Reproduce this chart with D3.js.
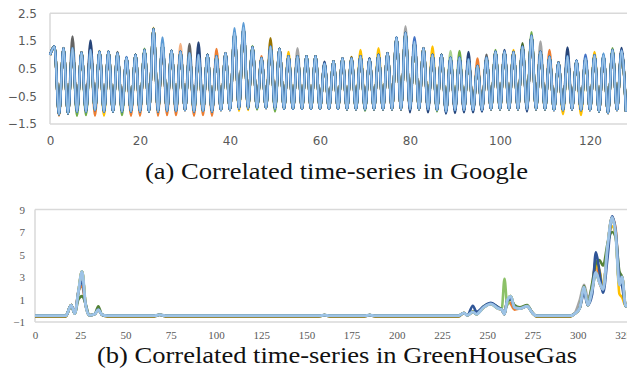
<!DOCTYPE html>
<html><head><meta charset="utf-8">
<script src="https://cdn.jsdelivr.net/npm/d3@7"></script>
<style>body{margin:0;background:#fff}svg{display:block}</style>
</head><body>
<svg id="c" width="627" height="377"></svg>
<script>
// ---------- Panel (a): Google ----------
const googleTicksY = [2.5, 1.5, 0.5, -0.5, -1.5];
const googleTicksX = [0, 20, 40, 60, 80, 100, 120];
// shared shape (main light-blue series), x = 0..128
const googleBase = [
 1.0, 1.3,-1.15, 1.24,-1.12, 1.24,-1.06, 1.09,-1.06, 1.18,-1.0,
 1.12,-1.06, 1.12,-1.05, 1.06,-1.05, 0.9,-1.05, 1.0,-1.05,
 1.18,-1.05, 1.94,-1.05, 1.4,-1.03, 1.15,-1.03, 1.12,-1.0,
 1.06,-1.05, 1.0,-1.03, 1.0,-1.05, 0.95,-1.0, 1.06,-1.0,
 1.8,-0.95, 2.0,-0.93, 1.28,-0.92, 0.88,-0.92, 1.3,-0.95,
 1.22,-0.95, 0.95,-0.95, 0.95,-0.95, 0.95,-0.95, 0.95,-0.95,
 0.68,-0.95, 0.77,-0.95, 0.87,-0.97, 0.87,-0.97, 0.95,-0.97,
 0.84,-0.97, 1.0,-0.97, 1.06,-0.97, 1.63,-0.97, 1.8,-0.97,
 1.48,-0.97, 1.24,-0.97, 1.0,-1.0, 1.0,-1.05, 0.9,-1.0,
 0.9,-1.0, 0.84,-1.0, 0.6,-1.0, 0.9,-0.97, 1.12,-0.97,
 1.12,-0.97, 1.1,-0.97, 1.3,-0.97, 1.7,-0.97, 1.12,-0.97,
 0.93,-1.0, 0.72,-1.0, 0.95,-0.97, 0.79,-1.0, 0.88,-1.0,
 0.98,-1.05, 0.98,-1.1, 1.18,-1.0, 1.15,-1.05
];
// per-series points that differ from the shared shape: [x, value]
const gOrange = [[2,-1.2],[10,-1.2],[18,-1.2],[20,-1.2],[24,-1.2],[26,-1.18],[28,-1.18],[32,-1.2],[34,-1.18],[36,-1.2],[37,1.21],[47,0.95],[95,0.87],[111,1.18]];
const gGray = [[55,1.24],[79,2.03],[109,1.48]];
const gGold = [[11,1.14],[12,-1.2],[23,1.98],[42,-1.03],[44,-1.0],[53,1.1],[69,1.18],[73,1.24],[85,1.3],[103,1.18],[114,-1.15],[118,-1.18],[121,1.1]];
const gBlue = [[17,0.92],[81,1.63],[119,1.0]];
const gGreen = [[6,-1.21],[8,-1.18],[16,-1.18],[21,1.22],[45,1.3],[46,-0.98],[50,-1.05],[70,-1.02],[86,-1.05],[91,1.14],[99,1.18],[107,1.82],[125,1.24]];
const gDarkBlue = [[9,1.52],[33,1.45],[61,0.75],[71,0.88],[80,-1.08],[84,-1.08],[88,-1.12],[90,-1.1],[92,-1.08],[93,1.1],[94,-1.08],[96,-1.05],[101,1.18],[106,-1.05],[115,1.27],[127,1.25]];
const gDarkOrange = [[9,1.36]];
const gDarkGray = [[5,1.66],[15,1.1],[31,1.39],[97,1.0]];
const gDarkGold = [[49,1.6],[67,0.92]];
const gMidBlue = [[25,1.63],[41,1.96],[43,2.15],[123,1.05]];
const gLightGreen = [[45,1.32],[89,1.14]];
const gLightOrange = [[29,1.39]];
const gDarkGreen = [[105,1.42]];
const gMain = [];
const googleSeriesData = [gOrange,gGray,gGold,gDarkGold,gDarkOrange,gDarkGray,gLightOrange,gLightGreen,gGreen,gDarkGreen,gDarkBlue,gBlue,gMidBlue,gMain];
const googleSeriesColors = ['#ED7D31','#A5A5A5','#FFC000','#997300','#9E480E','#636363','#F4B183','#A9D18E','#70AD47','#43682B','#264478','#4472C4','#5B9BD5','#9DC3E6'];
const googleSeriesWidths = [2.4,2.4,2.4,2.4,2.4,2.4,2.4,2.4,2.4,2.4,2.4,2.6,2.3,1.6];

// ---------- Panel (b): GreenHouseGas ----------
const ghgTicksY = [9, 7, 5, 3, 1, -1];
const ghgTicksX = [0, 25, 50, 75, 100, 125, 150, 175, 200, 225, 250, 275, 300, 325];
const ghgX = [0,17,20,22,24,26,28,30,33,35,37,40,66,69,72,157,160,163,182,185,188,234,
 237,239,242,244,248,252,256,258,259.5,261,263,265,268,272,275,277,
 296,298,301,303.5,305.5,308,310,312,314,316.5,319,321,323,324.5,326.5,329];
const ghgBase = [-0.45,-0.45,0.5,-0.25,1.7,3.5,0.5,-0.4,-0.3,0.1,-0.35,-0.45,-0.45,-0.35,-0.45,-0.45,-0.38,-0.45,-0.45,-0.38,-0.45,-0.45,
 -0.2,-0.4,-0.1,-0.3,0.3,0.6,0.2,0.1,-0.3,0.9,1.3,0.3,0.2,0.4,-0.2,-0.45,
 -0.45,-0.3,0.2,2.1,0.5,1.9,3.4,2.5,1.9,5.8,8.3,6.7,2.3,3.0,0.4,0.9];
const hDarkGold = [[0,-0.52],[17,-0.52],[40,-0.52],[66,-0.52],[72,-0.52],[157,-0.52],[163,-0.52],[182,-0.52],[188,-0.52],[234,-0.52],[277,-0.52],[296,-0.52]];
const hGray = [[301,0.9],[303.5,2.3],[305.5,1.2],[308,2.3],[310,4.5],[312,3.5]];
const hOrange = [[26,2.2],[263,0.6],[265,0.1],[310,4.4],[321,7.2],[323,2.5]];
const hGold = [[310,4.0],[312,3.6],[319,7.5],[323,1.5],[324.5,1.2]];
const hGreen = [[24,1.0],[26,1.3],[28,0.6],[35,0.4],[248,0.4],[252,0.65],[256,0.3],[263,1.0],[265,0.5],[268,0.3],[272,0.5],[303.5,2.2],[308,2.5],[310,4.2],[312,4.5],[314,4.0],[316.5,6.0],[319,7.0],[321,6.5],[323,3.5]];
const hLightGreen = [[258,0.2],[259.5,2.85],[261,0.5]];
const hDarkBlue = [[26,2.6],[242,0.45],[244,-0.1],[248,0.4],[252,0.7],[256,0.3],[263,1.1],[303.5,1.6],[308,1.5],[310,5.2],[312,3.5],[314,1.6],[316.5,4.8],[319,8.4],[321,7.0],[323,3.0],[324.5,2.2]];
const hMain = [];
const ghgSeriesData = [hDarkGold,hGray,hOrange,hGold,hLightGreen,hGreen,hDarkBlue,hMain];
const ghgSeriesColors = ['#997300','#A5A5A5','#ED7D31','#FFC000','#8CC168','#548235','#2F5597','#9DC3E6'];

// ---------- drawing ----------
const svg = d3.select('#c');

function applyOverrides(xs, base, over) {
  const m = new Map(over);
  return xs.map((x, i) => [x, m.has(x) ? m.get(x) : base[i]]);
}

// Panel (a)
{
  const x = d3.scaleLinear().domain([0, 128]).range([50, 626]);
  const y = d3.scaleLinear().domain([-1.5, 2.5]).range([124, 13.3]);
  const g = svg.append('g');
  g.append('line').attr('x1', 50).attr('x2', 627).attr('y1', y(2.5)).attr('y2', y(2.5)).attr('stroke', '#D9D9D9').attr('stroke-width', 1.5);
  g.append('line').attr('x1', 50).attr('x2', 627).attr('y1', y(-1.5)).attr('y2', y(-1.5)).attr('stroke', '#D9D9D9').attr('stroke-width', 1.5);
  g.append('line').attr('x1', 50).attr('x2', 50).attr('y1', y(2.5)).attr('y2', y(-1.5)).attr('stroke', '#D9D9D9').attr('stroke-width', 1.5);
  const yAxis = d3.axisLeft(y).tickValues(googleTicksY).tickSize(0).tickPadding(13).tickFormat(d3.format('.1f'));
  const ya = g.append('g').attr('transform', 'translate(50,0)').call(yAxis);
  const xAxis = d3.axisBottom(x).tickValues(googleTicksX).tickSize(0).tickPadding(12);
  const xa = g.append('g').attr('transform', `translate(0,${y(-1.5)})`).call(xAxis);
  [ya, xa].forEach(a => {
    a.select('.domain').remove();
    a.selectAll('text').attr('fill', '#595959').attr('font-family', 'DejaVu Sans, Verdana, sans-serif').attr('font-size', 12);
  });
  const xs = d3.range(0, 129);
  const line = d3.line().x(d => x(d[0])).y(d => y(d[1])).curve(d3.curveMonotoneX);
  googleSeriesData.forEach((over, i) => {
    g.append('path').datum(applyOverrides(xs, googleBase, over))
      .attr('fill', 'none').attr('stroke', googleSeriesColors[i])
      .attr('stroke-width', googleSeriesWidths[i]).attr('stroke-linejoin', 'round')
      .attr('d', line);
  });
}

// Panel (b)
{
  const x = d3.scaleLinear().domain([0, 325]).range([35, 623]);
  const y = d3.scaleLinear().domain([-1, 9]).range([322, 209.5]);
  const g = svg.append('g');
  g.append('line').attr('x1', 35).attr('x2', 627).attr('y1', y(9)).attr('y2', y(9)).attr('stroke', '#D9D9D9').attr('stroke-width', 1.5);
  g.append('line').attr('x1', 35).attr('x2', 627).attr('y1', y(-1)).attr('y2', y(-1)).attr('stroke', '#D9D9D9').attr('stroke-width', 1.5);
  g.append('line').attr('x1', 35).attr('x2', 35).attr('y1', y(9)).attr('y2', y(-1)).attr('stroke', '#D9D9D9').attr('stroke-width', 1.5);
  const yAxis = d3.axisLeft(y).tickValues(ghgTicksY).tickSize(0).tickPadding(10);
  const ya = g.append('g').attr('transform', 'translate(35,0)').call(yAxis);
  const xAxis = d3.axisBottom(x).tickValues(ghgTicksX).tickSize(0).tickPadding(9);
  const xa = g.append('g').attr('transform', `translate(0,${y(-1)})`).call(xAxis);
  [ya, xa].forEach(a => {
    a.select('.domain').remove();
    a.selectAll('text').attr('fill', '#595959').attr('font-family', 'Liberation Serif, Times New Roman, serif').attr('font-size', 11);
  });
  const line = d3.line().x(d => x(d[0])).y(d => y(d[1])).curve(d3.curveMonotoneX);
  ghgSeriesData.forEach((over, i) => {
    const isMain = i === ghgSeriesData.length - 1;
    g.append('path').datum(applyOverrides(ghgX, ghgBase, over))
      .attr('fill', 'none').attr('stroke', ghgSeriesColors[i])
      .attr('stroke-width', isMain ? 3 : 2.6).attr('stroke-linejoin', 'round')
      .attr('d', line);
  });
}

// captions
svg.append('text').attr('x', 336.5).attr('y', 179).attr('text-anchor', 'middle')
  .attr('font-family', 'Liberation Serif, serif').attr('font-size', 24).attr('fill', '#111')
  .attr('textLength', 383).attr('lengthAdjust', 'spacingAndGlyphs')
  .text('(a) Correlated time-series in Google');
svg.append('text').attr('x', 337).attr('y', 363).attr('text-anchor', 'middle')
  .attr('font-family', 'Liberation Serif, serif').attr('font-size', 24).attr('fill', '#111')
  .attr('textLength', 480).attr('lengthAdjust', 'spacingAndGlyphs')
  .text('(b) Correlated time-series in GreenHouseGas');
</script>
</body></html>
